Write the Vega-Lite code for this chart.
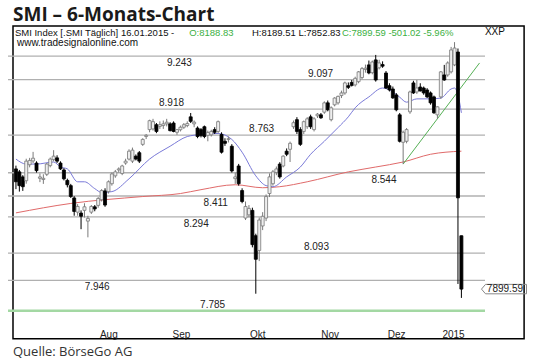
{
"$schema": "https://vega.github.io/schema/vega-lite/v6.json",
"width": 477, "height": 303,
"autosize": {"type": "none"},
"padding": {"left": 8, "top": 26, "right": 55, "bottom": 35},
"background": "white",
"config": {"view": {"stroke": null}},
"datasets": {
"candles": [
{"i":0,"o":8566,"h":8585,"l":8450,"c":8492},{"i":1,"o":8549,"h":8560,"l":8436,"c":8470},{"i":2,"o":8520,"h":8530,"l":8440,"c":8464},{"i":3,"o":8498,"h":8625,"l":8481,"c":8611},{"i":4,"o":8590,"h":8630,"l":8575,"c":8615},{"i":5,"o":8612,"h":8665,"l":8600,"c":8628},{"i":6,"o":8600,"h":8610,"l":8545,"c":8556},{"i":7,"o":8512,"h":8540,"l":8490,"c":8520},{"i":8,"o":8505,"h":8535,"l":8480,"c":8512},{"i":9,"o":8535,"h":8600,"l":8525,"c":8594},
{"i":10,"o":8585,"h":8632,"l":8575,"c":8623},{"i":11,"o":8620,"h":8675,"l":8610,"c":8640},{"i":12,"o":8630,"h":8645,"l":8600,"c":8611},{"i":13,"o":8600,"h":8610,"l":8560,"c":8566},{"i":14,"o":8560,"h":8570,"l":8500,"c":8509},{"i":15,"o":8500,"h":8510,"l":8460,"c":8475},{"i":16,"o":8470,"h":8480,"l":8400,"c":8408},{"i":17,"o":8400,"h":8410,"l":8300,"c":8324},{"i":18,"o":8320,"h":8365,"l":8300,"c":8352},{"i":19,"o":8315,"h":8330,"l":8225,"c":8297},
{"i":20,"o":8330,"h":8370,"l":8290,"c":8350},{"i":21,"o":8270,"h":8300,"l":8180,"c":8285},{"i":22,"o":8320,"h":8360,"l":8310,"c":8352},{"i":23,"o":8350,"h":8360,"l":8325,"c":8338},{"i":24,"o":8358,"h":8405,"l":8345,"c":8397},{"i":25,"o":8390,"h":8450,"l":8380,"c":8442},{"i":26,"o":8440,"h":8455,"l":8350,"c":8360},{"i":27,"o":8436,"h":8500,"l":8425,"c":8492},{"i":28,"o":8481,"h":8545,"l":8470,"c":8537},{"i":29,"o":8526,"h":8560,"l":8515,"c":8549},
{"i":30,"o":8560,"h":8575,"l":8545,"c":8566},{"i":31,"o":8540,"h":8590,"l":8530,"c":8583},{"i":32,"o":8600,"h":8625,"l":8590,"c":8611},{"i":33,"o":8623,"h":8680,"l":8615,"c":8669},{"i":34,"o":8611,"h":8690,"l":8600,"c":8675},{"i":35,"o":8640,"h":8650,"l":8615,"c":8623},{"i":36,"o":8660,"h":8670,"l":8600,"c":8611},{"i":37,"o":8709,"h":8745,"l":8700,"c":8738},{"i":38,"o":8755,"h":8770,"l":8740,"c":8762},{"i":39,"o":8796,"h":8855,"l":8780,"c":8849},
{"i":40,"o":8800,"h":8860,"l":8790,"c":8843},{"i":41,"o":8825,"h":8835,"l":8775,"c":8785},{"i":42,"o":8815,"h":8845,"l":8800,"c":8825},{"i":43,"o":8820,"h":8850,"l":8800,"c":8830},{"i":44,"o":8830,"h":8860,"l":8815,"c":8840},{"i":45,"o":8830,"h":8840,"l":8785,"c":8790},{"i":46,"o":8835,"h":8845,"l":8780,"c":8785},{"i":47,"o":8780,"h":8800,"l":8765,"c":8796},{"i":48,"o":8795,"h":8820,"l":8785,"c":8810},{"i":49,"o":8810,"h":8835,"l":8800,"c":8825},
{"i":50,"o":8820,"h":8845,"l":8810,"c":8832},{"i":51,"o":8872,"h":8895,"l":8835,"c":8845},{"i":52,"o":8830,"h":8850,"l":8810,"c":8840},{"i":53,"o":8805,"h":8815,"l":8745,"c":8755},{"i":54,"o":8796,"h":8805,"l":8750,"c":8760},{"i":55,"o":8813,"h":8820,"l":8745,"c":8755},{"i":56,"o":8762,"h":8790,"l":8727,"c":8779},{"i":57,"o":8765,"h":8795,"l":8755,"c":8785},{"i":58,"o":8796,"h":8810,"l":8770,"c":8780},{"i":59,"o":8785,"h":8850,"l":8775,"c":8843},
{"i":60,"o":8767,"h":8780,"l":8655,"c":8663},{"i":61,"o":8727,"h":8745,"l":8700,"c":8715},{"i":62,"o":8738,"h":8755,"l":8720,"c":8742},{"i":63,"o":8698,"h":8710,"l":8545,"c":8554},{"i":64,"o":8510,"h":8545,"l":8480,"c":8520},{"i":65,"o":8583,"h":8595,"l":8470,"c":8481},{"i":66,"o":8442,"h":8455,"l":8370,"c":8380},{"i":67,"o":8287,"h":8380,"l":8276,"c":8352},{"i":68,"o":8305,"h":8360,"l":8290,"c":8341},{"i":69,"o":8330,"h":8345,"l":8125,"c":8140},
{"i":70,"o":8189,"h":8200,"l":7875,"c":8060},{"i":71,"o":8108,"h":8290,"l":8050,"c":8276},{"i":72,"o":8243,"h":8320,"l":8220,"c":8297},{"i":73,"o":8287,"h":8420,"l":8270,"c":8408},{"i":74,"o":8425,"h":8540,"l":8405,"c":8520},{"i":75,"o":8481,"h":8560,"l":8470,"c":8549},{"i":76,"o":8545,"h":8580,"l":8530,"c":8566},{"i":77,"o":8594,"h":8605,"l":8510,"c":8520},{"i":78,"o":8583,"h":8645,"l":8575,"c":8640},{"i":79,"o":8669,"h":8685,"l":8640,"c":8651},
{"i":80,"o":8680,"h":8725,"l":8606,"c":8715},{"i":81,"o":8813,"h":8850,"l":8800,"c":8837},{"i":82,"o":8855,"h":8870,"l":8770,"c":8785},{"i":83,"o":8796,"h":8810,"l":8700,"c":8709},{"i":84,"o":8785,"h":8850,"l":8770,"c":8843},{"i":85,"o":8813,"h":8870,"l":8800,"c":8860},{"i":86,"o":8872,"h":8885,"l":8800,"c":8813},{"i":87,"o":8796,"h":8870,"l":8785,"c":8860},{"i":88,"o":8878,"h":8895,"l":8865,"c":8888},{"i":89,"o":8884,"h":8895,"l":8860,"c":8866},
{"i":90,"o":8900,"h":8965,"l":8890,"c":8956},{"i":91,"o":8956,"h":8970,"l":8905,"c":8914},{"i":92,"o":8855,"h":8935,"l":8845,"c":8926},{"i":93,"o":8944,"h":8990,"l":8935,"c":8985},{"i":94,"o":8956,"h":9000,"l":8945,"c":8995},{"i":95,"o":9000,"h":9030,"l":8985,"c":9016},{"i":96,"o":9016,"h":9085,"l":9005,"c":9077},{"i":97,"o":9060,"h":9080,"l":9040,"c":9050},{"i":98,"o":9080,"h":9095,"l":9055,"c":9062},{"i":99,"o":9065,"h":9115,"l":9055,"c":9105},
{"i":100,"o":9085,"h":9150,"l":9075,"c":9145},{"i":101,"o":9110,"h":9175,"l":9100,"c":9165},{"i":102,"o":9160,"h":9190,"l":9140,"c":9168},{"i":103,"o":9188,"h":9215,"l":9130,"c":9138},{"i":104,"o":9140,"h":9215,"l":9130,"c":9206},{"i":105,"o":9219,"h":9250,"l":9085,"c":9095},{"i":106,"o":9170,"h":9220,"l":9160,"c":9200},{"i":107,"o":9190,"h":9210,"l":9170,"c":9180},{"i":108,"o":9138,"h":9150,"l":9040,"c":9046},{"i":109,"o":9060,"h":9075,"l":9025,"c":9034},
{"i":110,"o":9040,"h":9055,"l":8980,"c":8986},{"i":111,"o":9004,"h":9015,"l":8905,"c":8914},{"i":112,"o":8884,"h":8895,"l":8720,"c":8727},{"i":113,"o":8721,"h":8790,"l":8594,"c":8780},{"i":114,"o":8727,"h":8805,"l":8715,"c":8796},{"i":115,"o":8902,"h":9030,"l":8890,"c":9022},{"i":116,"o":9077,"h":9090,"l":9010,"c":9016},{"i":117,"o":9022,"h":9095,"l":9010,"c":9046},{"i":118,"o":9052,"h":9075,"l":9025,"c":9028},{"i":119,"o":9046,"h":9055,"l":9005,"c":9016},
{"i":120,"o":9034,"h":9045,"l":8985,"c":8992},{"i":121,"o":9016,"h":9025,"l":8945,"c":8956},{"i":122,"o":8992,"h":9000,"l":8890,"c":8896},{"i":123,"o":8884,"h":8935,"l":8860,"c":8932},{"i":124,"o":8992,"h":9150,"l":8980,"c":9145},{"i":125,"o":9126,"h":9188,"l":9090,"c":9095},{"i":126,"o":9126,"h":9210,"l":9115,"c":9200},{"i":127,"o":9145,"h":9300,"l":9135,"c":9281},{"i":128,"o":9188,"h":9330,"l":9180,"c":9293},{"i":129,"o":9268,"h":9290,"l":7927,"c":8400.61},
{"i":130,"o":8188.83,"h":8189.51,"l":7852.83,"c":7899.59}
],
"ma20": [
{"i":0,"v":8623},{"i":3,"v":8594},{"i":6,"v":8594},{"i":11,"v":8606},{"i":13,"v":8577},{"i":15,"v":8566},{"i":18,"v":8492},{"i":20,"v":8492},{"i":23,"v":8453},{"i":25,"v":8431},{"i":28,"v":8436},{"i":33,"v":8509},{"i":39,"v":8623},{"i":45,"v":8698},{"i":50,"v":8755},{"i":54,"v":8767},{"i":59,"v":8773},{"i":63,"v":8738},{"i":66,"v":8663},{"i":70,"v":8526},{"i":73,"v":8470},{"i":75,"v":8464},{"i":79,"v":8520},{"i":83,"v":8577},{"i":86,"v":8651},{"i":90,"v":8727},{"i":94,"v":8808},{"i":97,"v":8872},{"i":99,"v":8926},{"i":103,"v":8992},{"i":107,"v":9046},{"i":110,"v":9022},{"i":112,"v":8990},{"i":114,"v":8960},{"i":117,"v":8980},{"i":121,"v":8980},{"i":124,"v":8985},{"i":127,"v":9040},{"i":128,"v":9046},{"i":129,"v":9004},{"i":130,"v":8896}
],
"ma200": [
{"i":0,"v":8316},{"i":16,"v":8369},{"i":37,"v":8408},{"i":48,"v":8425},{"i":54,"v":8447},{"i":64,"v":8475},{"i":72,"v":8458},{"i":77,"v":8464},{"i":85,"v":8492},{"i":97,"v":8549},{"i":105,"v":8577},{"i":113,"v":8606},{"i":121,"v":8651},{"i":130,"v":8669}
],
"trend": [{"i":113,"v":8594},{"i":135.3,"v":9200}],
"levels": [
{"v":9243,"label":"9.243","at":47.7},{"v":9097,"label":"9.097","at":88.9},{"v":8918,"label":"8.918","at":45.4},{"v":8763,"label":"8.763","at":71.7},{"v":8544,"label":"8.544","at":107.4},{"v":8411,"label":"8.411","at":58.3},{"v":8294,"label":"8.294","at":52.6},{"v":8093,"label":"8.093","at":87.7},{"v":7946,"label":"7.946","at":23.7},{"v":7785,"label":"7.785","at":57.4}
],
"months": [
{"m":"Aug","mid":27.1},{"m":"Sep","mid":48.3},{"m":"Okt","mid":70.6},{"m":"Nov","mid":91.7},{"m":"Dez","mid":111.1},{"m":"2015","mid":127.7}
]
},
"layer": [
{"data":{"values":[{}]},"mark":{"type":"rect","filled":false,"stroke":"#000","strokeWidth":1.5},
 "encoding":{"x":{"datum":-0.86,"type":"quantitative","scale":{"type":"linear","domain":[-0.86,135.43],"zero":false,"nice":false},"axis":null},"x2":{"datum":148.3},
 "y":{"datum":9432,"type":"quantitative","scale":{"type":"log","domain":[7690,9432],"nice":false},"axis":null},"y2":{"datum":7639}}},
{"data":{"name":"levels"},"mark":{"type":"rule"},
 "encoding":{"y":{"field":"v","type":"quantitative","scale":{"type":"log","domain":[7690,9432],"nice":false},"axis":null},
 "color":{"condition":{"test":"datum.v === 7785","value":"#a3d8a3"},"value":"#b0b0b0"},
 "strokeWidth":{"condition":{"test":"datum.v === 7785","value":2.5},"value":1.3}}},
{"data":{"name":"ma200"},"mark":{"type":"line","color":"#e06a6a","strokeWidth":1,"interpolate":"monotone"},
 "encoding":{"x":{"field":"i","type":"quantitative","scale":{"type":"linear","domain":[-0.86,135.43],"zero":false,"nice":false},"axis":null},"y":{"field":"v","type":"quantitative","scale":{"type":"log","domain":[7690,9432],"nice":false},"axis":null}}},
{"data":{"name":"ma20"},"mark":{"type":"line","color":"#7a7ad8","strokeWidth":1,"interpolate":"monotone"},
 "encoding":{"x":{"field":"i","type":"quantitative","scale":{"type":"linear","domain":[-0.86,135.43],"zero":false,"nice":false},"axis":null},"y":{"field":"v","type":"quantitative","scale":{"type":"log","domain":[7690,9432],"nice":false},"axis":null}}},
{"data":{"name":"trend"},"mark":{"type":"line","color":"#55b055","strokeWidth":1},
 "encoding":{"x":{"field":"i","type":"quantitative","scale":{"type":"linear","domain":[-0.86,135.43],"zero":false,"nice":false},"axis":null},"y":{"field":"v","type":"quantitative","scale":{"type":"log","domain":[7690,9432],"nice":false},"axis":null}}},
{"data":{"name":"candles"},"mark":{"type":"rule","strokeWidth":1},
 "encoding":{"x":{"field":"i","type":"quantitative","scale":{"type":"linear","domain":[-0.86,135.43],"zero":false,"nice":false},
   "axis":{"values":[17,37,59,82,102,121],"labels":false,"ticks":true,"tickColor":"#666","tickSize":4,"domainColor":"#f08080","domainWidth":1.2,"grid":false,"title":null}},
  "y":{"field":"l","type":"quantitative","scale":{"type":"log","domain":[7690,9432],"nice":false},
   "axis":{"orient":"right","values":[7700,7800,7900,8000,8100,8200,8300,8400,8500,8600,8700,8800,8900,9000,9100,9200,9300,9400],"labelExpr":"datum.value % 200 === 0 ? format(datum.value, '.2f') : ''","labelOverlap":false,"labelFlush":false,"labelFont":"Liberation Sans","labelFontSize":10,"labelColor":"#222","labelPadding":2,"tickColor":"#f08080","tickSize":4,"domainColor":"#f08080","domainWidth":1.2,"grid":false,"title":null}},
  "y2":{"field":"h"},
  "color":{"condition":{"test":"datum.c >= datum.o","value":"#7a7a7a"},"value":"#000"}}},
{"data":{"name":"candles"},"mark":{"type":"bar","size":3,"strokeWidth":0.8},
 "encoding":{"x":{"field":"i","type":"quantitative","scale":{"type":"linear","domain":[-0.86,135.43],"zero":false,"nice":false},"axis":null},
  "y":{"field":"o","type":"quantitative","scale":{"type":"log","domain":[7690,9432],"nice":false},"axis":null},"y2":{"field":"c"},
  "fill":{"condition":{"test":"datum.c >= datum.o","value":"#eeeeee"},"value":"#000"},
  "stroke":{"condition":{"test":"datum.c >= datum.o","value":"#777"},"value":"#000"}}},
{"data":{"name":"levels"},"transform":[{"filter":{"field":"v","oneOf":[9243,8544,8411,8294,7946]}}],
 "mark":{"type":"text","font":"Liberation Sans","fontSize":10,"color":"#222","align":"center","baseline":"top","dy":2},
 "encoding":{"x":{"field":"at","type":"quantitative","scale":{"type":"linear","domain":[-0.86,135.43],"zero":false,"nice":false},"axis":null},"y":{"field":"v","type":"quantitative","scale":{"type":"log","domain":[7690,9432],"nice":false},"axis":null},"text":{"field":"label"}}},
{"data":{"name":"levels"},"transform":[{"filter":{"field":"v","oneOf":[9097,8918,8763,8093,7785]}}],
 "mark":{"type":"text","font":"Liberation Sans","fontSize":10,"color":"#222","align":"center","baseline":"alphabetic","dy":-3},
 "encoding":{"x":{"field":"at","type":"quantitative","scale":{"type":"linear","domain":[-0.86,135.43],"zero":false,"nice":false},"axis":null},"y":{"field":"v","type":"quantitative","scale":{"type":"log","domain":[7690,9432],"nice":false},"axis":null},"text":{"field":"label"}}},
{"data":{"name":"months"},"mark":{"type":"text","font":"Liberation Sans","fontSize":10,"color":"#222","align":"center","baseline":"alphabetic"},
 "encoding":{"x":{"field":"mid","type":"quantitative","scale":{"type":"linear","domain":[-0.86,135.43],"zero":false,"nice":false},"axis":null},"y":{"datum":7646,"type":"quantitative","scale":{"type":"log","domain":[7690,9432],"nice":false},"axis":null},"text":{"field":"m"}}},
{"data":{"values":[{"t":"SMI – 6-Monats-Chart"}]},"mark":{"type":"text","font":"Open Sans","fontSize":19,"fontWeight":"bold","color":"#1a1a1a","align":"left","baseline":"alphabetic"},
 "encoding":{"x":{"datum":-0.86,"type":"quantitative","axis":null},"y":{"datum":9464,"type":"quantitative","axis":null},"text":{"field":"t"}}},
{"data":{"values":[{"t":"Quelle: BörseGo AG"}]},"mark":{"type":"text","font":"Open Sans","fontSize":13,"color":"#333","align":"left","baseline":"alphabetic"},
 "encoding":{"x":{"datum":-0.86,"type":"quantitative","axis":null},"y":{"datum":7549,"type":"quantitative","axis":null},"text":{"field":"t"}}},
{"data":{"values":[{"t":"SMI Index [.SMI  Täglich] 16.01.2015 -"}]},"mark":{"type":"text","font":"Liberation Sans","fontSize":9.5,"color":"#111","align":"left","baseline":"alphabetic"},
 "encoding":{"x":{"datum":-0.29,"type":"quantitative","axis":null},"y":{"datum":9366,"type":"quantitative","axis":null},"text":{"field":"t"}}},
{"data":{"values":[{"t":"O:8188.83"}]},"mark":{"type":"text","font":"Liberation Sans","fontSize":9.5,"color":"#3cb043","align":"left","baseline":"alphabetic"},
 "encoding":{"x":{"datum":50.57,"type":"quantitative","axis":null},"y":{"datum":9366,"type":"quantitative","axis":null},"text":{"field":"t"}}},
{"data":{"values":[{"t":"H:8189.51 L:7852.83"}]},"mark":{"type":"text","font":"Liberation Sans","fontSize":9.5,"color":"#111","align":"left","baseline":"alphabetic"},
 "encoding":{"x":{"datum":68.86,"type":"quantitative","axis":null},"y":{"datum":9366,"type":"quantitative","axis":null},"text":{"field":"t"}}},
{"data":{"values":[{"t":"C:7899.59 -501.02 -5.96%"}]},"mark":{"type":"text","font":"Liberation Sans","fontSize":9.5,"color":"#3cb043","align":"left","baseline":"alphabetic"},
 "encoding":{"x":{"datum":95.14,"type":"quantitative","axis":null},"y":{"datum":9366,"type":"quantitative","axis":null},"text":{"field":"t"}}},
{"data":{"values":[{"t":"www.tradesignalonline.com"}]},"mark":{"type":"text","font":"Liberation Sans","fontSize":10,"color":"#111","align":"left","baseline":"alphabetic"},
 "encoding":{"x":{"datum":0.29,"type":"quantitative","axis":null},"y":{"datum":9303,"type":"quantitative","axis":null},"text":{"field":"t"}}},
{"data":{"values":[{"t":"XXP"}]},"mark":{"type":"text","font":"Liberation Sans","fontSize":10,"color":"#111","align":"left","baseline":"alphabetic"},
 "encoding":{"x":{"datum":136.86,"type":"quantitative","axis":null},"y":{"datum":9372,"type":"quantitative","axis":null},"text":{"field":"t"}}},
{"data":{"values":[{"last":7899.59}]},"mark":{"type":"point","shape":"M -1 0 L -0.82 -0.21 L 1 -0.21 L 1 0.21 L -0.82 0.21 Z","size":2025,"filled":false,"stroke":"#888","strokeWidth":1,"opacity":1},
 "encoding":{"x":{"datum":142.43,"type":"quantitative","axis":null},"y":{"field":"last","type":"quantitative","axis":null}}},
{"data":{"values":[{"last":7899.59}]},"mark":{"type":"text","font":"Liberation Sans","fontSize":10,"color":"#222","align":"left","baseline":"middle"},
 "encoding":{"x":{"datum":137.43,"type":"quantitative","axis":null},"y":{"field":"last","type":"quantitative","axis":null},"text":{"field":"last","format":".2f"}}}
]
}
